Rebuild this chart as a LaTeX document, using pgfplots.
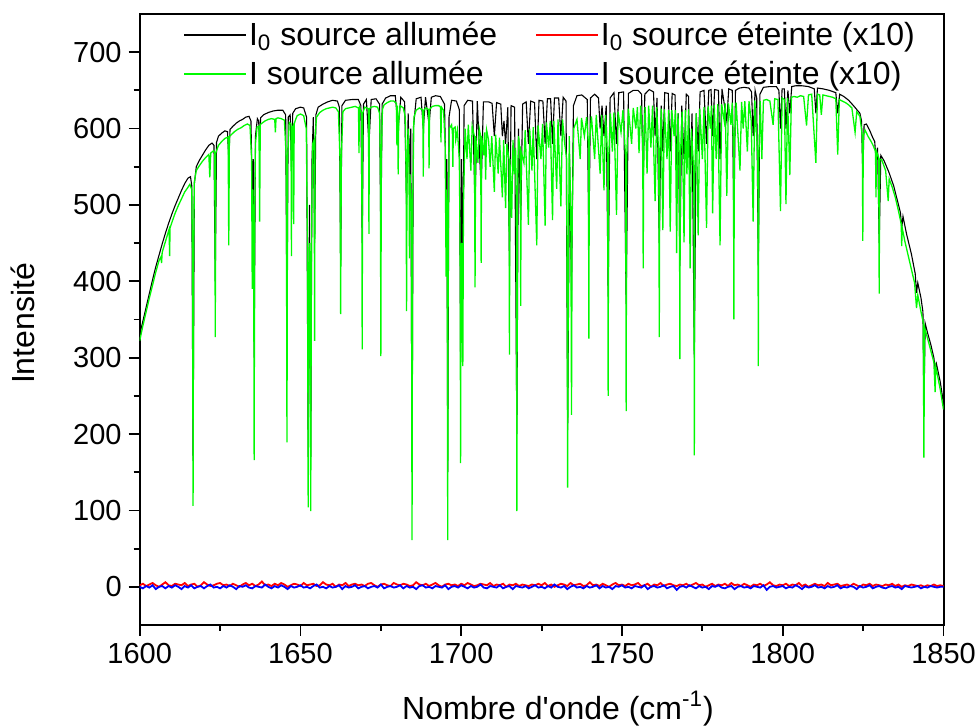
\documentclass[border=0pt]{standalone}
\usepackage{fontspec}
\setmainfont{Liberation Sans}
\usepackage{pgfplots}
\pgfplotsset{compat=1.18}
\definecolor{limegreen}{RGB}{0,250,0}
\begin{document}
\begin{tikzpicture}
\begin{axis}[
  scale only axis, width=401.9pt, height=305.5pt,
  xmin=1600, xmax=1850, ymin=-50, ymax=750,
  xtick={1600,1650,...,1850}, ytick={0,100,...,700},
  minor x tick num=1, minor y tick num=1,
  tick align=outside, tick pos=left,
  major tick length=5.5pt, minor tick length=3pt,
  every tick/.style={black, line width=0.9pt},
  axis line style={line width=1pt},
  /pgf/number format/assume math mode=true,
  /pgf/number format/set thousands separator={},
  tick label style={font=\fontsize{14.5}{17}\selectfont},
  xlabel={Nombre d\textquotesingle onde (cm\textsuperscript{-1})},
  ylabel={Intensité},
  label style={font=\fontsize{16}{19}\selectfont},
  xlabel style={at={(axis description cs:0.5204,-0.137)}, anchor=center},
  ylabel style={at={(axis description cs:-0.1452,0.4935)}, anchor=center},
  legend columns=2, legend cell align=left,
  legend style={draw=none, fill=none, inner sep=0pt,
    at={(axis description cs:0.0539,0.991)}, anchor=north west,
    font=\fontsize{16}{19}\selectfont,
    nodes={inner sep=1pt}, row sep=4pt,
    /tikz/every even column/.append style={column sep=18pt}},
  legend image code/.code={\draw[#1, line width=0.8pt] (0pt,0pt) -- (31pt,0pt);},
]
% I0 source allumee (black)
\addplot[color=black, line width=0.55pt] coordinates {
(1600,330)(1601,348)(1602,366)(1603,384)(1604,402)(1605,419)(1606,434)(1607,449)(1608,463)(1609,476)(1610,488)(1611,499)(1612,509)(1613,519)(1614,528)(1615,535)(1615.8,537)(1616.2,525)(1616.6,165)(1617,528)(1617.6,550)(1618.5,558)(1619.5,565)(1620.5,572)(1621.5,578)(1622.5,581)(1623.1,578)(1623.5,400)(1623.9,582)(1624.5,590)(1625.5,594)(1626.5,597)(1627.3,596)(1627.7,560)(1628.1,599)(1629,603)(1630,607)(1631,610)(1632,612)(1633,615)(1634,616)(1634.6,610)(1635,520)(1635.3,560)(1635.6,300)(1636,590)(1636.6,613)(1637,610)(1637.3,580)(1637.6,614)(1638.5,618)(1640,621)(1641.5,623)(1643,624)(1644.5,624)(1645.4,618)(1645.8,350)(1646.2,615)(1646.8,618)(1647.2,550)(1647.6,620)(1648.5,626)(1650,628)(1651,627)(1651.9,615)(1652.4,170)(1652.8,500)(1653.2,170)(1653.6,560)(1654,615)(1654.4,450)(1654.8,618)(1655.5,628)(1657,632)(1658.5,635)(1660,637)(1661.5,636)(1662.1,628)(1662.5,420)(1662.9,630)(1664,637)(1666,638)(1668,638)(1668.8,630)(1669.2,450)(1669.6,632)(1670.5,638)(1671.3,580)(1672,638)(1673.5,639)(1674.6,632)(1675,450)(1675.4,632)(1676.5,640)(1678,643)(1679.5,643)(1680.4,600)(1681.2,641)(1682.4,635)(1683,500)(1683.5,620)(1683.9,540)(1684.3,600)(1684.7,150)(1685.1,600)(1686,639)(1687.5,641)(1688.2,600)(1688.9,641)(1690,605)(1690.7,641)(1692,643)(1693.5,642)(1694.8,632)(1695.3,520)(1695.55,560)(1695.8,150)(1696.2,615)(1697,637)(1698.5,636)(1699.4,625)(1699.8,300)(1700.1,560)(1700.5,420)(1700.9,630)(1702,637)(1703.5,636)(1704.3,500)(1705,636)(1706.2,520)(1706.9,635)(1708.5,635)(1709.6,633)(1710.3,590)(1711,634)(1712.3,632)(1712.8,590)(1713.3,610)(1713.8,580)(1714.5,628)(1715,420)(1715.5,630)(1716.6,628)(1717.3,200)(1717.8,600)(1718.5,480)(1719.1,632)(1720.2,635)(1720.9,580)(1721.6,636)(1722.8,634)(1723.5,560)(1724.2,637)(1725.4,636)(1726.1,580)(1726.8,639)(1727.8,639)(1728.4,580)(1729,640)(1730.3,640)(1731,590)(1731.7,641)(1732.6,636)(1733.1,205)(1733.7,560)(1734.3,388)(1734.9,630)(1736,643)(1737.5,644)(1739.2,638)(1739.7,450)(1740.2,640)(1741.5,645)(1742.7,640)(1743.2,600)(1743.8,630)(1744.4,590)(1745.1,630)(1745.7,380)(1746.3,640)(1747.5,647)(1748.3,580)(1749,647)(1750.5,648)(1751.3,370)(1752,646)(1753.5,650)(1755,650)(1756.1,645)(1756.6,520)(1757.1,645)(1758.5,651)(1759.8,648)(1760.3,590)(1760.9,640)(1761.6,450)(1762.2,630)(1762.7,570)(1763.3,647)(1764.4,646)(1765,570)(1765.6,646)(1766.5,644)(1767,550)(1767.5,620)(1768,420)(1768.6,630)(1769.3,560)(1770,645)(1770.7,642)(1771.2,540)(1771.8,620)(1772.5,300)(1773.1,620)(1773.7,570)(1774.3,648)(1775.5,650)(1776.3,580)(1777,650)(1777.7,651)(1778.2,590)(1778.8,651)(1780,650)(1780.5,560)(1781.1,652)(1782.6,610)(1783.2,652)(1784.3,650)(1784.8,470)(1785.3,650)(1786.5,653)(1788,654)(1789.5,653)(1790.3,648)(1790.8,590)(1791.4,650)(1791.9,640)(1792.4,420)(1792.9,645)(1794,654)(1796,655)(1798,655)(1798.8,650)(1799.3,600)(1799.8,652)(1800.5,652)(1801,600)(1801.6,650)(1802.2,620)(1802.8,655)(1804,656)(1806,656)(1808,655)(1809.8,652)(1810.3,620)(1810.8,653)(1812.5,652)(1814.5,650)(1816.5,647)(1817.1,620)(1817.7,645)(1819,642)(1820.5,637)(1822,630)(1823,625)(1824,620)(1824.5,610)(1824.9,540)(1825.3,605)(1826,606)(1827,598)(1828,588)(1828.6,583)(1829,560)(1829.5,575)(1830,450)(1830.5,565)(1831.5,558)(1833,543)(1834.5,525)(1836,500)(1836.6,490)(1837,470)(1837.4,485)(1838.5,462)(1840,436)(1841.2,410)(1841.6,385)(1842,398)(1843,378)(1843.6,360)(1843.9,230)(1844.3,345)(1845,333)(1846,318)(1847,300)(1847.4,285)(1847.8,292)(1849,268)(1850,240)
};
\addlegendentry{I\textsubscript{0} source allumée}
% I0 source eteinte x10 (red)
\addplot[color=red, line width=0.9pt] coordinates {
(1600,2)(1601,4)(1602,1)(1603,3)(1604,5)(1605,2)(1606,0)(1607,3)(1608,6)(1609,2)
(1610,1)(1611,4)(1612,3)(1613,2)(1614,5)(1615,1)(1616,3)(1617,4)(1618,0)(1619,2)
(1620,6)(1621,3)(1622,1)(1623,2)(1624,4)(1625,5)(1626,2)(1627,3)(1628,1)(1629,4)
(1630,2)(1631,0)(1632,3)(1633,5)(1634,2)(1635,4)(1636,1)(1637,3)(1638,7)(1639,2)
(1640,3)(1641,1)(1642,4)(1643,2)(1644,5)(1645,3)(1646,0)(1647,2)(1648,4)(1649,3)
(1650,1)(1651,5)(1652,2)(1653,3)(1654,4)(1655,1)(1656,2)(1657,6)(1658,3)(1659,2)
(1660,4)(1661,0)(1662,3)(1663,2)(1664,5)(1665,1)(1666,3)(1667,4)(1668,2)(1669,3)
(1670,1)(1671,4)(1672,5)(1673,2)(1674,0)(1675,3)(1676,4)(1677,2)(1678,1)(1679,5)
(1680,3)(1681,2)(1682,4)(1683,3)(1684,1)(1685,2)(1686,6)(1687,3)(1688,2)(1689,4)
(1690,1)(1691,3)(1692,5)(1693,2)(1694,0)(1695,3)(1696,4)(1697,2)(1698,3)(1699,1)
(1700,4)(1701,2)(1702,5)(1703,3)(1704,1)(1705,2)(1706,4)(1707,3)(1708,2)(1709,5)
(1710,1)(1711,3)(1712,2)(1713,4)(1714,0)(1715,3)(1716,2)(1717,4)(1718,1)(1719,3)
(1720,2)(1721,1)(1722,3)(1723,2)(1724,4)(1725,2)(1726,5)(1727,1)(1728,3)(1729,0)
(1730,2)(1731,4)(1732,3)(1733,1)(1734,5)(1735,2)(1736,3)(1737,4)(1738,1)(1739,2)
(1740,6)(1741,2)(1742,3)(1743,1)(1744,4)(1745,2)(1746,0)(1747,3)(1748,5)(1749,2)
(1750,3)(1751,1)(1752,4)(1753,2)(1754,3)(1755,5)(1756,1)(1757,2)(1758,4)(1759,0)
(1760,3)(1761,2)(1762,5)(1763,1)(1764,3)(1765,4)(1766,2)(1767,1)(1768,3)(1769,2)
(1770,4)(1771,1)(1772,3)(1773,5)(1774,2)(1775,3)(1776,0)(1777,2)(1778,4)(1779,1)
(1780,3)(1781,2)(1782,4)(1783,1)(1784,5)(1785,2)(1786,3)(1787,1)(1788,4)(1789,2)
(1790,0)(1791,3)(1792,2)(1793,4)(1794,1)(1795,3)(1796,6)(1797,2)(1798,1)(1799,3)
(1800,2)(1801,4)(1802,1)(1803,3)(1804,2)(1805,5)(1806,1)(1807,3)(1808,0)(1809,2)
(1810,4)(1811,2)(1812,3)(1813,1)(1814,5)(1815,2)(1816,3)(1817,4)(1818,1)(1819,2)
(1820,3)(1821,1)(1822,4)(1823,2)(1824,0)(1825,3)(1826,2)(1827,4)(1828,1)(1829,3)
(1830,2)(1831,1)(1832,3)(1833,2)(1834,4)(1835,1)(1836,3)(1837,0)(1838,2)(1839,1)
(1840,3)(1841,2)(1842,1)(1843,2)(1844,0)(1845,2)(1846,1)(1847,3)(1848,1)(1849,2)(1850,1)
};
\addlegendentry{I\textsubscript{0} source éteinte (x10)}
% I source allumee (green)
\addplot[color=limegreen, line width=0.65pt] coordinates {
(1600,322)(1601,342)(1602,360)(1603,378)(1604,395)(1605,412)(1606,427)(1606.6,432)(1606.8,424)(1607,438)(1608,452)(1609,466)(1609.15,468)(1609.3,433)(1609.45,470)(1610,477)(1611,489)(1612,499)(1613,508)(1614,517)(1615,523)(1615.6,527)(1616.2,520)(1616.45,420)(1616.6,106)(1616.75,420)(1617,530)(1617.6,545)(1618.5,551)(1619.5,557)(1620.5,562)(1621.5,566)(1621.8,536)(1622.1,568)(1623,571)(1623.35,568)(1623.5,327)(1623.65,568)(1624.5,578)(1625.5,583)(1626.5,587)(1627.5,589)(1627.7,447)(1627.9,590)(1628.5,592)(1629.5,596)(1630.5,599)(1631.5,601)(1632.5,604)(1633.5,606)(1634.3,604)(1634.8,560)(1635.0,390)(1635.2,520)(1635.45,450)(1635.6,166)(1635.75,480)(1636,580)(1636.5,602)(1637.1,603)(1637.3,478)(1637.5,605)(1638,607)(1639,610)(1640,612)(1641,613)(1642,612)(1642.2,595)(1642.4,613)(1643,614)(1644,613)(1645,611)(1645.6,560)(1645.8,189)(1646,560)(1646.5,608)(1647.05,606)(1647.2,433)(1647.35,600)(1647.75,604)(1647.9,475)(1648.05,606)(1648.5,612)(1649,617)(1650,619)(1651,617)(1651.8,600)(1652.2,450)(1652.4,104)(1652.6,400)(1652.8,450)(1653.0,400)(1653.2,99)(1653.4,450)(1653.8,580)(1654.25,585)(1654.4,322)(1654.55,590)(1655,615)(1656,621)(1657,624)(1658,626)(1659,627)(1660,628)(1661,627)(1661.8,622)(1662.3,560)(1662.5,357)(1662.7,560)(1663.2,622)(1664,626)(1665,627)(1666,628)(1667,629)(1668.05,627)(1668.2,568)(1668.35,628)(1669.05,620)(1669.2,311)(1669.35,620)(1670,628)(1671.15,626)(1671.3,462)(1671.45,626)(1672,628)(1673,629)(1674,628)(1674.6,620)(1674.85,560)(1675.0,302)(1675.15,560)(1675.5,625)(1676,631)(1677,634)(1678,636)(1679,636)(1679.85,633)(1680.0,578)(1680.15,630)(1680.25,600)(1680.4,540)(1680.55,610)(1681,630)(1682,627)(1682.6,615)(1682.85,540)(1683.0,361)(1683.15,540)(1683.5,600)(1683.75,560)(1683.9,430)(1684.05,540)(1684.5,500)(1684.7,61)(1684.9,500)(1685.3,615)(1686,624)(1687,627)(1688.05,624)(1688.2,537)(1688.35,624)(1689,627)(1689.85,625)(1690.0,548)(1690.15,625)(1691,629)(1692,630)(1693,630)(1693.55,628)(1693.7,582)(1693.85,628)(1694.5,624)(1695.0,580)(1695.3,406)(1695.5,520)(1695.65,450)(1695.8,61)(1695.95,450)(1696.3,600)(1697,605)(1697.25,595)(1697.4,550)(1697.55,600)(1698.1,602)(1698.3,585)(1698.8,598)(1699.4,560)(1699.65,450)(1699.8,162)(1699.95,400)(1700.2,450)(1700.5,289)(1700.7,500)(1701.2,600)(1701.8,560)(1702.2,605)(1703,545)(1703.4,603)(1704.1,590)(1704.3,392)(1704.5,590)(1705.2,555)(1705.6,600)(1706.05,590)(1706.2,424)(1706.35,590)(1707,565)(1707.3,595)(1707.6,533)(1707.9,598)(1708.5,585)(1709,550)(1709.5,590)(1710.3,517)(1710.7,592)(1711.5,541)(1711.9,588)(1712.8,510)(1713.2,585)(1713.8,496)(1714.2,580)(1714.85,560)(1715.0,304)(1715.15,560)(1715.7,483)(1716.1,585)(1716.5,540)(1716.9,575)(1717.15,500)(1717.3,99)(1717.45,500)(1717.8,590)(1718.35,570)(1718.5,368)(1718.65,570)(1719.5,555)(1719.9,598)(1720.9,474)(1721.3,600)(1722,545)(1722.4,602)(1723.5,447)(1723.9,604)(1724.8,560)(1725.3,606)(1726.1,473)(1726.5,608)(1727.2,575)(1727.7,610)(1728.4,480)(1728.8,610)(1729.7,521)(1730.1,612)(1731.0,498)(1731.5,612)(1732.2,580)(1732.8,560)(1733.0,300)(1733.1,130)(1733.25,350)(1733.6,590)(1734.1,480)(1734.3,225)(1734.5,480)(1735,600)(1736,612)(1737,560)(1737.4,614)(1738.3,590)(1739,615)(1739.55,580)(1739.7,325)(1739.85,580)(1740.5,616)(1741.5,560)(1742,618)(1743.2,541)(1743.7,618)(1744.4,519)(1744.9,618)(1745.55,560)(1745.7,250)(1745.85,560)(1746.4,620)(1747,570)(1747.5,621)(1748.3,487)(1748.8,622)(1749.7,595)(1750.3,624)(1751.15,560)(1751.3,230)(1751.45,560)(1752,626)(1753,580)(1753.5,627)(1754.3,600)(1754.8,628)(1755.3,568)(1755.8,630)(1756.45,580)(1756.6,417)(1756.75,580)(1757.2,628)(1757.8,541)(1758.3,630)(1759,575)(1759.5,630)(1760.3,505)(1760.8,628)(1761.45,560)(1761.6,327)(1761.75,560)(1762.2,626)(1762.7,467)(1763.2,625)(1764,560)(1764.5,624)(1765.0,465)(1765.5,624)(1766.2,590)(1766.6,624)(1767.0,437)(1767.4,620)(1767.85,560)(1768.0,298)(1768.15,560)(1768.7,622)(1769.3,451)(1769.7,624)(1770.2,540)(1770.7,625)(1771.2,417)(1771.6,600)(1772.35,540)(1772.5,172)(1772.65,540)(1773.1,620)(1773.7,460)(1774.2,626)(1775,560)(1775.5,628)(1776.3,470)(1776.8,629)(1777.5,600)(1777.8,630)(1778.2,489)(1778.7,631)(1779.3,560)(1779.8,632)(1780.5,447)(1781,632)(1781.8,610)(1782.1,633)(1782.6,512)(1783.1,633)(1783.9,605)(1784.3,634)(1784.65,580)(1784.8,350)(1784.95,580)(1785.5,634)(1786.7,545)(1787.2,635)(1787.7,600)(1788.2,636)(1789,570)(1789.5,636)(1790.2,610)(1790.8,478)(1791.3,637)(1792.25,560)(1792.4,289)(1792.55,560)(1793,636)(1793.5,560)(1794,637)(1795,638)(1796,636)(1797,605)(1797.5,639)(1798.5,638)(1799.3,492)(1799.8,640)(1800.5,638)(1801.0,501)(1801.5,640)(1802.2,539)(1802.7,641)(1803.5,642)(1804.5,641)(1805.5,643)(1806.5,642)(1807.4,604)(1808,644)(1809,645)(1810.3,555)(1810.8,645)(1811.5,644)(1812,618)(1812.5,644)(1813.5,643)(1814.5,642)(1815.5,641)(1816.5,639)(1817.1,566)(1817.6,638)(1818.5,636)(1819.5,634)(1820.5,631)(1821.5,627)(1822.5,595)(1823,622)(1824,616)(1824.75,590)(1824.9,453)(1825.05,590)(1825.6,598)(1826.5,590)(1827.5,583)(1828.2,577)(1828.85,570)(1829,510)(1829.15,570)(1829.85,562)(1830,384)(1830.15,560)(1830.8,559)(1832,545)(1832.8,505)(1833.1,534)(1834,524)(1835,510)(1836,492)(1836.85,475)(1837,446)(1837.15,470)(1838,452)(1839,434)(1840,416)(1841,398)(1841.6,365)(1842,382)(1843,360)(1843.7,346)(1843.9,169)(1844.1,340)(1845,326)(1846,310)(1847,294)(1847.4,255)(1847.6,288)(1848,280)(1849,258)(1850,232)
};
\addlegendentry{I source allumée}
% I source eteinte x10 (blue)
\addplot[color=blue, line width=0.9pt] coordinates {
(1600,0)(1601,-2)(1602,1)(1603,-1)(1604,2)(1605,-3)(1606,0)(1607,1)(1608,-2)(1609,1)
(1610,-1)(1611,2)(1612,0)(1613,-3)(1614,1)(1615,-1)(1616,2)(1617,-2)(1618,0)(1619,1)
(1620,-2)(1621,1)(1622,3)(1623,-1)(1624,0)(1625,-2)(1626,1)(1627,-1)(1628,2)(1629,0)
(1630,-3)(1631,1)(1632,0)(1633,2)(1634,-1)(1635,-2)(1636,1)(1637,0)(1638,-1)(1639,3)
(1640,0)(1641,-2)(1642,1)(1643,-1)(1644,2)(1645,0)(1646,-3)(1647,1)(1648,-1)(1649,0)
(1650,2)(1651,-1)(1652,0)(1653,-2)(1654,1)(1655,3)(1656,-1)(1657,0)(1658,-2)(1659,1)
(1660,-1)(1661,0)(1662,2)(1663,-3)(1664,1)(1665,-1)(1666,0)(1667,2)(1668,-2)(1669,0)
(1670,1)(1671,-2)(1672,0)(1673,1)(1674,-1)(1675,3)(1676,-2)(1677,0)(1678,1)(1679,-1)
(1680,0)(1681,2)(1682,-2)(1683,1)(1684,-1)(1685,0)(1686,-3)(1687,1)(1688,2)(1689,-1)
(1690,0)(1691,-2)(1692,1)(1693,0)(1694,-1)(1695,2)(1696,-3)(1697,0)(1698,1)(1699,-1)
(1700,2)(1701,0)(1702,-2)(1703,1)(1704,-1)(1705,0)(1706,3)(1707,-1)(1708,-2)(1709,1)
(1710,0)(1711,-1)(1712,2)(1713,-2)(1714,0)(1715,1)(1716,-3)(1717,1)(1718,0)(1719,-1)
(1720,1)(1721,-2)(1722,0)(1723,2)(1724,-1)(1725,0)(1726,-2)(1727,1)(1728,-1)(1729,3)
(1730,0)(1731,-1)(1732,1)(1733,-3)(1734,0)(1735,2)(1736,-1)(1737,0)(1738,-2)(1739,1)
(1740,-1)(1741,0)(1742,2)(1743,-2)(1744,1)(1745,-1)(1746,0)(1747,-3)(1748,1)(1749,0)
(1750,2)(1751,-1)(1752,0)(1753,-2)(1754,1)(1755,0)(1756,-1)(1757,2)(1758,-3)(1759,0)
(1760,1)(1761,-1)(1762,0)(1763,2)(1764,-2)(1765,0)(1766,1)(1767,-4)(1768,0)(1769,1)
(1770,-1)(1771,2)(1772,0)(1773,-2)(1774,1)(1775,-1)(1776,0)(1777,-3)(1778,1)(1779,0)
(1780,2)(1781,-1)(1782,-2)(1783,0)(1784,1)(1785,-3)(1786,0)(1787,1)(1788,-1)(1789,0)
(1790,-2)(1791,1)(1792,0)(1793,-1)(1794,2)(1795,-4)(1796,0)(1797,1)(1798,-1)(1799,0)
(1800,1)(1801,-2)(1802,0)(1803,-1)(1804,2)(1805,0)(1806,-3)(1807,1)(1808,-1)(1809,0)
(1810,2)(1811,-1)(1812,0)(1813,-2)(1814,1)(1815,-1)(1816,0)(1817,2)(1818,-2)(1819,0)
(1820,-1)(1821,1)(1822,0)(1823,-3)(1824,1)(1825,-1)(1826,0)(1827,2)(1828,-2)(1829,0)
(1830,1)(1831,-1)(1832,-2)(1833,0)(1834,1)(1835,-1)(1836,0)(1837,-3)(1838,1)(1839,0)
(1840,-1)(1841,0)(1842,1)(1843,-2)(1844,0)(1845,-1)(1846,1)(1847,0)(1848,-1)(1849,0)(1850,0)
};
\addlegendentry{I source éteinte (x10)}
\end{axis}
\pgfresetboundingbox
\path ([shift={(-69.85pt,-50.5pt)}]current axis.south west) rectangle ([shift={(17.25pt,7pt)}]current axis.north east);
\end{tikzpicture}
\end{document}
